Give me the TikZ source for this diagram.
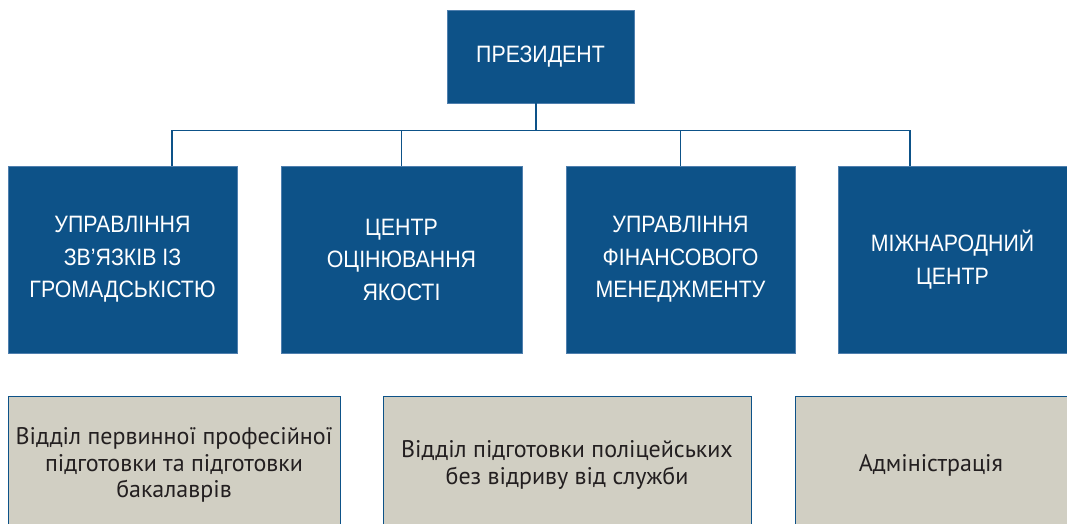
\documentclass[tikz,border=0pt]{standalone}
\usepackage{fontspec}
\setmainfont{Liberation Sans}[FakeStretch=0.9]
\newfontfamily\deptfont{PT Sans}
\usepackage{tikz}
\definecolor{unitblue}{HTML}{0D5288}
\definecolor{unitedge}{HTML}{4F7FAE}
\definecolor{deptgray}{HTML}{D1CFC3}
\definecolor{depttext}{HTML}{231F20}
\tikzset{unit/.style={fill=unitblue, draw=unitedge, line width=0.6pt, text=white,
    align=center, inner sep=0pt, font=\fontsize{23.7}{32.5}\selectfont},
  dept/.style={fill=deptgray, draw=unitblue, line width=1pt, text=depttext,
    align=center, inner sep=0pt, minimum height=136pt, font=\deptfont\fontsize{24}{26.7}\selectfont},
  link/.style={draw=unitblue, line width=1.3pt}}

\begin{document}
\begin{tikzpicture}[x=1pt,y=1pt]
  \useasboundingbox (0,0) rectangle (1067,524);
  \clip (0,0) rectangle (1067,524);
  \node[unit, minimum width=187pt, minimum height=93pt] (pres) at (540.5,467.5) {ПРЕЗИДЕНТ};
  \node[unit, minimum width=229pt, minimum height=187pt] (zvyazky) at (122.5,264.5)
    {УПРАВЛІННЯ\\ЗВ’ЯЗКІВ ІЗ\\ГРОМАДСЬКІСТЮ};
  \node[unit, minimum width=241pt, minimum height=187pt] (yakist) at (401.5,264.5)
    {ЦЕНТР\\ОЦІНЮВАННЯ\\ЯКОСТІ};
  \node[unit, minimum width=229pt, minimum height=187pt] (finansy) at (680.5,264.5)
    {УПРАВЛІННЯ\\ФІНАНСОВОГО\\МЕНЕДЖМЕНТУ};
  \node[unit, minimum width=229pt, minimum height=187pt] (mizhnar) at (952.5,264.5)
    {МІЖНАРОДНИЙ\\ЦЕНТР};
  \node[dept, minimum width=332pt] (pervynna) at (174,59)
    {Відділ первинної професійної\\підготовки та підготовки\\бакалаврів};
  \node[dept, minimum width=368pt] (bezvidryvu) at (567,59)
    {Відділ підготовки поліцейських\\без відриву від служби};
  \node[dept, minimum width=272pt] (admin) at (931,59) {Адміністрація};
  % bus under the president
  \draw[link] ([xshift=-4.5pt]pres.south) -- ++(0,-27) coordinate (bus);
  \draw[link] (bus) -| ([xshift=49.5pt]zvyazky.north);
  \draw[link] (bus) -| (yakist.north);
  \draw[link] (bus) -| (finansy.north);
  \draw[link] (bus) -| ([xshift=-42.5pt]mizhnar.north);
\end{tikzpicture}
\end{document}
